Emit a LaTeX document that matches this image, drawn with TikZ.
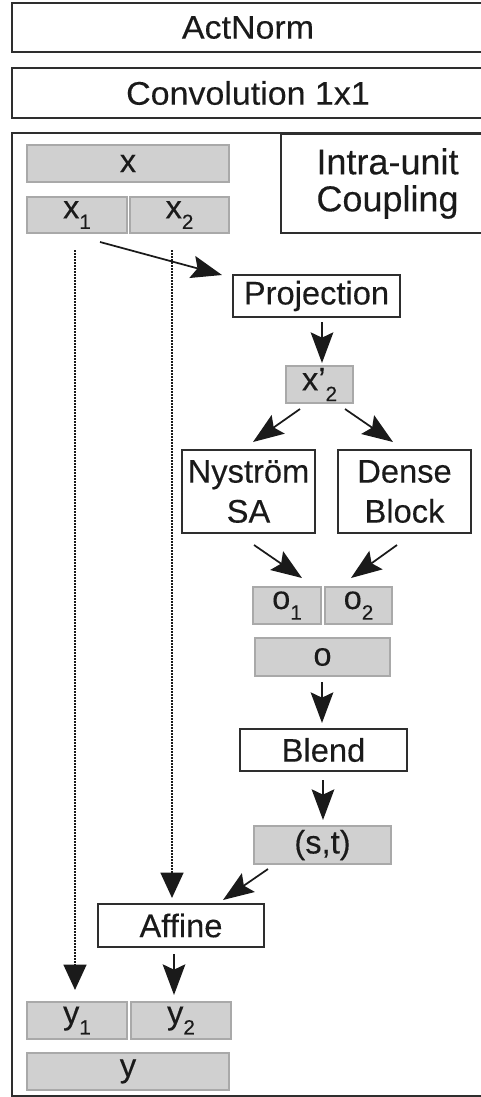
\documentclass[tikz,border=0pt]{standalone}
\usepackage{fontspec}
\setmainfont{Liberation Sans}[FakeBold=0.25]
\newfontfamily\widefont{Liberation Sans}[FakeStretch=1.04, FakeBold=0.25]
\usetikzlibrary{arrows.meta}
\definecolor{ink}{HTML}{1A1A1A}
\definecolor{cellfill}{HTML}{D0D0D0}
\definecolor{celledge}{HTML}{A9A9A9}
\definecolor{rulecol}{HTML}{2E2E2E}
\newcommand\idx[1]{\raisebox{-8pt}{\fontsize{15.5}{15.5}\selectfont #1}}

\begin{document}
\begin{tikzpicture}[x=0.75pt,y=-0.75pt,
  sz/.style 2 args={minimum width=#1*0.75pt, minimum height=#2*0.75pt},
  base/.style={inner sep=0pt, outer sep=0pt, text=ink,
    font=\fontsize{24.5}{28}\selectfont},
  cell/.style={base, fill=cellfill, draw=celledge, line width=0.8pt},
  opbox/.style={base, fill=white, draw=rulecol, line width=1.3pt},
  stagebox/.style={opbox, font=\widefont\fontsize{24.5}{28}\selectfont},
  unitframe/.style={draw=rulecol, line width=1.3pt, inner sep=0pt, fill=white},
  arr/.style={draw=ink, line width=1.3pt,
    -{Stealth[length=23pt, width=17pt, inset=4pt]}},
  skip/.style={draw=ink, line width=1.8pt, dash pattern=on 1.5pt off 0.75pt,
    -{Triangle[length=19pt, width=17pt]}}]

\useasboundingbox (0,0) rectangle (480,1097);

% outer blocks of the flow step
\node[stagebox, sz={472}{49}] (act)  at (248,27.5) {ActNorm};
\node[stagebox, sz={472}{50}] (conv) at (248,93)   {Convolution 1x1};

% coupling unit frame and its title
\node[unitframe, sz={482}{963}] (unit) at (253,614.5) {};
\node[opbox, sz={213}{99}, align=center, font=\fontsize{27}{27.75}\selectfont]
  (coup) at (387.5,183.5) {Intra-unit\\Coupling};

% input split
\node[cell, sz={202}{37}] (x)  at (128,163.5) {x};
\node[cell, sz={100}{36}] (x1) at (77,215)    {x\idx{1}};
\node[cell, sz={99}{36}]  (x2) at (179.5,215) {x\idx{2}};

% conditioning branch
\node[opbox, sz={167}{42}] (proj) at (316.5,296) {Projection};
\node[cell, sz={67}{37}]   (xp)   at (319.5,384.5) {x’\idx{2}};
\node[opbox, sz={133}{83}, align=center, font=\fontsize{24.5}{30}\selectfont]
  (nys) at (248.5,491.5) {Nyström\\SA};
\node[opbox, sz={133}{83}, align=center, font=\fontsize{24.5}{30}\selectfont]
  (dense) at (404.5,491.5) {Dense\\Block};
\node[cell, sz={68}{37}]  (o1) at (287,605.5)   {o\idx{1}};
\node[cell, sz={67}{37}]  (o2) at (358.5,605.5) {o\idx{2}};
\node[cell, sz={135}{38}] (o)  at (322.5,657)   {o};
\node[opbox, sz={167}{42}] (blend) at (323.5,750) {Blend};
\node[cell, sz={137}{38}] (st) at (322.5,845) {(s,t)};

% affine transform and output
\node[opbox, sz={166}{43}] (aff) at (181,925.5) {Affine};
\node[cell, sz={100}{37}] (y1) at (77,1020.5)  {y\idx{1}};
\node[cell, sz={100}{37}] (y2) at (181,1020.5) {y\idx{2}};
\node[cell, sz={202}{37}] (y)  at (128,1071.5) {y};

% connectors
\draw[arr] ([shift={(-27,9)}]x1.south east) -- ([shift={(-11,0)}]proj.north west);
\draw[arr] ([shift={(5.5,5)}]proj.south) -- ([shift={(2.5,-3)}]xp.north);
\draw[arr] ([shift={(14,6)}]xp.south west) -- ([shift={(4.5,-8)}]nys.north);
\draw[arr] ([shift={(-8,6)}]xp.south east) -- ([shift={(-11.5,-8)}]dense.north);
\draw[arr] ([shift={(5.5,12)}]nys.south) -- ([shift={(15,-9)}]o1.north);
\draw[arr] ([shift={(-7.5,12)}]dense.south) -- ([shift={(-7.5,-9)}]o2.north);
\draw[arr] ([shift={(-0.5,6)}]o.south) -- ([shift={(-1.5,-6)}]blend.north);
\draw[arr] ([shift={(-0.5,9)}]blend.south) -- ([shift={(0.5,-6)}]st.north);
\draw[arr] ([shift={(14,5)}]st.south west) -- ([shift={(-41,-4)}]aff.north east);
\draw[arr] ([shift={(-7,7)}]aff.south) -- ([shift={(-7,-7)}]y2.north);

% identity paths
\draw[skip] ([shift={(-2,17)}]x1.south) -- ([shift={(-2,-12)}]y1.north);
\draw[skip] ([shift={(-7.5,17)}]x2.south) -- ([shift={(-9,-6)}]aff.north);
\end{tikzpicture}
\end{document}
